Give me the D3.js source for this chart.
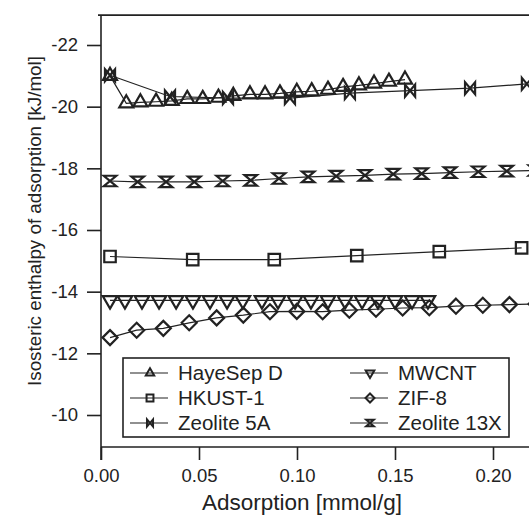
<!DOCTYPE html>
<html>
<head>
<meta charset="utf-8">
<script src="https://cdn.jsdelivr.net/npm/d3@7"></script>
<style>
  body { margin: 0; background: #fff; }
  svg { display: block; font-family: "Liberation Sans", Arial, Helvetica, sans-serif; }
</style>
</head>
<body>
<svg id="chart" width="529" height="516"></svg>
<script>
// values
const hayesepX = [0.0046, 0.0129, 0.0201, 0.0281, 0.0361, 0.0440, 0.0519, 0.0599, 0.0675, 0.0760,
                  0.0837, 0.0913, 0.0999, 0.1075, 0.1158, 0.1235, 0.1316, 0.1393, 0.1469, 0.1551];
const hayesepY = [-21.0, -20.11, -20.14, -20.16, -20.19, -20.25, -20.25, -20.29, -20.35, -20.40,
                  -20.40, -20.43, -20.48, -20.50, -20.55, -20.64, -20.69, -20.75, -20.81, -20.88];

const hkustX = [0.0046, 0.0468, 0.0884, 0.1305, 0.1726, 0.2146];
const hkustY = [-15.14, -15.04, -15.04, -15.17, -15.30, -15.42];

const zeo5aX = [0.0046, 0.0352, 0.0648, 0.0964, 0.1270, 0.1577, 0.1883, 0.2173];
const zeo5aY = [-21.02, -20.33, -20.28, -20.28, -20.44, -20.52, -20.60, -20.74];

const mwcntX = [0.0046, 0.0122, 0.0209, 0.0296, 0.0383, 0.0469, 0.0556, 0.0643, 0.0724, 0.0821,
                0.0903, 0.0990, 0.1071, 0.1158, 0.1245, 0.1332, 0.1413, 0.1500, 0.1587, 0.1668];
const mwcntY = [-13.72, -13.72, -13.72, -13.72, -13.72, -13.72, -13.72, -13.72, -13.72, -13.72,
                -13.72, -13.72, -13.72, -13.72, -13.72, -13.72, -13.72, -13.72, -13.72, -13.72];

const zif8X = [0.0046, 0.0182, 0.0318, 0.0450, 0.0590, 0.0726, 0.0862, 0.0999, 0.1131, 0.1267,
               0.1403, 0.1539, 0.1675, 0.1811, 0.1948, 0.2084, 0.2220];
const zif8Y = [-12.51, -12.75, -12.81, -12.99, -13.15, -13.24, -13.35, -13.36, -13.35, -13.40,
               -13.43, -13.47, -13.48, -13.53, -13.56, -13.58, -13.60];

const zeo13xX = [0.0046, 0.0187, 0.0332, 0.0476, 0.0621, 0.0764, 0.0908, 0.1057, 0.1200, 0.1347,
                 0.1491, 0.1636, 0.1781, 0.1925, 0.2070, 0.2214];
const zeo13xY = [-17.59, -17.56, -17.56, -17.56, -17.59, -17.61, -17.67, -17.72, -17.75, -17.77,
                 -17.81, -17.83, -17.86, -17.89, -17.91, -17.93];

const xTicks = [0, 0.05, 0.10, 0.15, 0.20];
const yTicks = [-22, -20, -18, -16, -14, -12, -10];

const ink = '#222';

// marker outlines, centred on the data point
const markers = {
  up: s => { const h = s * Math.sqrt(3) / 2; return `M0,${-2 * h / 3}L${s / 2},${h / 3}L${-s / 2},${h / 3}Z`; },
  down: s => { const h = s * Math.sqrt(3) / 2; return `M0,${2 * h / 3}L${s / 2},${-h / 3}L${-s / 2},${-h / 3}Z`; },
  square: s => `M${-s / 2},${-s / 2}H${s / 2}V${s / 2}H${-s / 2}Z`,
  diamond: s => `M0,${-s / 2}L${s / 2},0L0,${s / 2}L${-s / 2},0Z`,
  bowtie: s => `M${-s * 0.42},${-s / 2}L${s * 0.42},${s / 2}V${-s / 2}L${-s * 0.42},${s / 2}Z`,
  hourglass: s => `M${-s / 2},${-s * 0.42}H${s / 2}L${-s / 2},${s * 0.42}H${s / 2}Z`
};

const series = [
  { name: 'HayeSep D', xs: hayesepX, ys: hayesepY, marker: 'up', size: 14 },
  { name: 'HKUST-1', xs: hkustX, ys: hkustY, marker: 'square', size: 11.5 },
  { name: 'Zeolite 5A', xs: zeo5aX, ys: zeo5aY, marker: 'bowtie', size: 12 },
  { name: 'MWCNT', xs: mwcntX, ys: mwcntY, marker: 'down', size: 14.5 },
  { name: 'ZIF-8', xs: zif8X, ys: zif8Y, marker: 'diamond', size: 15 },
  { name: 'Zeolite 13X', xs: zeo13xX, ys: zeo13xY, marker: 'hourglass', size: 12.5 }
];

const svg = d3.select('#chart');
const W = 529, H = 516;

const x = d3.scaleLinear().domain([0, 0.20]).range([101, 493]);
const y = d3.scaleLinear().domain([-22, -10]).range([45, 415]);

const frameTop = y(-22.97), frameBottom = 447, frameLeft = x(0);

// axes
const yAxis = svg.append('g')
  .attr('transform', `translate(${frameLeft},0)`)
  .call(d3.axisLeft(y).tickValues(yTicks).tickSize(14).tickPadding(9).tickFormat(d => String(d)));
const xAxis = svg.append('g')
  .attr('transform', `translate(0,${frameBottom})`)
  .call(d3.axisBottom(x).tickValues(xTicks).tickSize(13).tickPadding(9).tickFormat(d3.format('.2f')));

[yAxis, xAxis].forEach(g => {
  g.select('.domain').remove();
  g.selectAll('.tick line').attr('stroke', ink).attr('stroke-width', 1.6);
  g.selectAll('.tick text').attr('fill', ink).style('font-size', '18.5px');
});

// frame: left, top and bottom lines run off the right edge
svg.append('path')
  .attr('d', `M${W + 5},${frameTop}H${frameLeft - 3}M${frameLeft},${frameTop}V${frameBottom + 13}M${frameLeft},${frameBottom}H${W + 5}`)
  .attr('fill', 'none').attr('stroke', ink).attr('stroke-width', 1.6);

const line = d3.line().x(d => x(d[0])).y(d => y(d[1]));

const plot = svg.append('g');
series.forEach(s => {
  const pts = s.xs.map((v, i) => [v, s.ys[i]]);
  plot.append('path')
    .attr('d', line(pts))
    .attr('fill', 'none').attr('stroke', ink).attr('stroke-width', 1.2);
  plot.selectAll(null)
    .data(pts)
    .join('path')
    .attr('transform', d => `translate(${x(d[0])},${y(d[1])})`)
    .attr('d', markers[s.marker](s.size))
    .attr('fill', 'none').attr('stroke', ink).attr('stroke-width', 2.2)
    .attr('stroke-linejoin', 'miter');
});

// legend
const legend = svg.append('g');
legend.append('rect')
  .attr('x', 123).attr('y', 358).attr('width', 386).attr('height', 79)
  .attr('fill', '#fff').attr('stroke', ink).attr('stroke-width', 1.6);

const colX = [130, 350];
const rowY = [373, 398, 423];
series.forEach((s, i) => {
  const cx = colX[Math.floor(i / 3)], cy = rowY[i % 3];
  const g = legend.append('g').attr('transform', `translate(${cx},${cy})`);
  g.append('line').attr('x1', 0).attr('x2', 38).attr('y1', 0).attr('y2', 0)
    .attr('stroke', ink).attr('stroke-width', 1.2);
  g.append('path').attr('transform', 'translate(20,0)')
    .attr('d', markers[s.marker](s.size * 0.6))
    .attr('fill', 'none').attr('stroke', ink).attr('stroke-width', 2);
  g.append('text').attr('x', 48).attr('y', 0).attr('dy', '0.36em')
    .attr('fill', ink).style('font-size', '20.5px').text(s.name);
});

// axis titles
svg.append('text')
  .attr('x', 302).attr('y', 510)
  .attr('text-anchor', 'middle').attr('fill', ink).style('font-size', '22.5px')
  .text('Adsorption [mmol/g]');
svg.append('text')
  .attr('transform', 'translate(41,221) rotate(-90)')
  .attr('text-anchor', 'middle').attr('fill', ink).style('font-size', '18.8px')
  .text('Isosteric enthalpy of adsorption [kJ/mol]');
</script>
</body>
</html>
